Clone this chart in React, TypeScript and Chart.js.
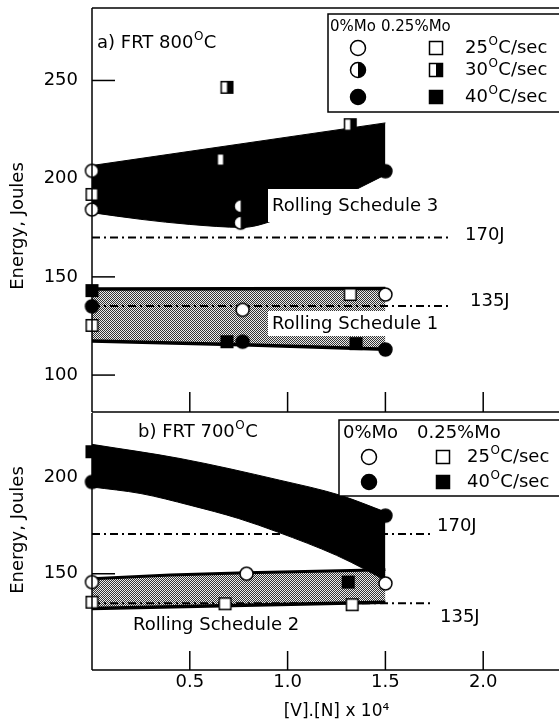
import { useEffect, useRef } from 'react';
import { Chart, registerables } from 'chart.js';

Chart.register(...registerables);

const FONT = '"DejaVu Sans", "Liberation Sans", sans-serif';

// ---------- axis ticks ----------
const xTickValues = [0.5, 1.0, 1.5, 2.0];
const yTicksA = [100, 150, 200, 250];
const yTicksB = [150, 200];

// ---------- Panel a) FRT 800°C : markers ----------
const aCircle25 = [{ x: 0, y: 204 }, { x: 0, y: 184.3 }, { x: 0.77, y: 133.2 }, { x: 1.5, y: 141 }];
const aSquare25 = [{ x: 0, y: 192 }, { x: 0, y: 125.3 }, { x: 1.32, y: 141 }];
const aCircle30 = [{ x: 0.76, y: 186 }, { x: 0.76, y: 177.6 }];
const aSquare30 = [{ x: 0.69, y: 246.5 }, { x: 0.67, y: 209.7 }, { x: 1.32, y: 227.5 }];
const aCircle40 = [{ x: 1.5, y: 203.8 }, { x: 0, y: 135 }, { x: 0.77, y: 117 }, { x: 1.5, y: 113 }];
const aSquare40 = [{ x: 0, y: 143 }, { x: 0.69, y: 117 }, { x: 1.35, y: 116 }];

// Panel a) bands
const aRS3Upper = [{ x: 0, y: 206.7 }, { x: 1.5, y: 228.4 }];
const aRS3Lower = [{ x: 0, y: 182.7 }, { x: 0.25, y: 179.3 }, { x: 0.5, y: 176.7 }, { x: 0.77, y: 175.2 }, { x: 1.0, y: 181 }, { x: 1.2, y: 187 }, { x: 1.37, y: 195.5 }, { x: 1.5, y: 202 }];
const aRS1Upper = [{ x: 0, y: 143.8 }, { x: 1.5, y: 144.1 }];
const aRS1Lower = [{ x: 0, y: 117.3 }, { x: 0.77, y: 115.4 }, { x: 1.5, y: 113.2 }];
const aRef170 = [{ x: 0, y: 170 }, { x: 1.83, y: 170 }];
const aRef135 = [{ x: 0, y: 135.2 }, { x: 1.83, y: 135.2 }];

// ---------- Panel b) FRT 700°C : markers ----------
const bCircle25 = [{ x: 0, y: 145.7 }, { x: 0.79, y: 150 }, { x: 1.5, y: 145 }];
const bSquare25 = [{ x: 0, y: 135.3 }, { x: 0.68, y: 134.5 }, { x: 1.33, y: 134 }];
const bCircle40 = [{ x: 0, y: 197.4 }, { x: 1.5, y: 180 }];
const bSquare40 = [{ x: 0, y: 213 }, { x: 1.31, y: 145.7 }];

// Panel b) bands
const bBlackUpper = [{ x: 0, y: 216.8 }, { x: 0.45, y: 209.5 }, { x: 0.96, y: 198.3 }, { x: 1.27, y: 190.5 }, { x: 1.5, y: 181.9 }];
const bBlackLower = [{ x: 0, y: 194.8 }, { x: 0.25, y: 191.4 }, { x: 0.5, y: 185.4 }, { x: 0.75, y: 178.5 }, { x: 0.95, y: 171.5 }, { x: 1.25, y: 159.5 }, { x: 1.4, y: 152 }, { x: 1.5, y: 146.5 }];
const bRS2Upper = [{ x: 0, y: 147.4 }, { x: 0.4, y: 149.3 }, { x: 0.79, y: 150.5 }, { x: 1.5, y: 152 }];
const bRS2Lower = [{ x: 0, y: 132 }, { x: 1.5, y: 135.3 }];
const bRef170 = [{ x: 0, y: 170.5 }, { x: 1.74, y: 170.5 }];
const bRef135 = [{ x: 0, y: 134.8 }, { x: 1.73, y: 134.8 }];

// ---------- helpers ----------
type Kind = 'open' | 'half' | 'filled';

function drawMarker(g: CanvasRenderingContext2D, round: boolean, kind: Kind, cx: number, cy: number, r: number) {
  const path = () => {
    g.beginPath();
    if (round) g.arc(cx, cy, r, 0, Math.PI * 2);
    else g.rect(cx - r, cy - r, 2 * r, 2 * r);
  };
  g.save();
  path();
  g.fillStyle = kind === 'filled' ? '#000' : '#fff';
  g.fill();
  if (kind === 'half') {
    g.save();
    path();
    g.clip();
    g.fillStyle = '#000';
    g.fillRect(cx, cy - r - 2, r + 2, 2 * r + 4);
    g.restore();
  }
  path();
  g.lineWidth = 1.5;
  g.strokeStyle = '#000';
  g.stroke();
  g.restore();
}

function makeMarker(round: boolean, kind: Kind) {
  const size = round ? 17 : 15;
  const c = document.createElement('canvas');
  c.width = size;
  c.height = size;
  const g = c.getContext('2d')!;
  drawMarker(g, round, kind, size / 2, size / 2, round ? 6.5 : 5.8);
  return c;
}

function makePattern(ctx: CanvasRenderingContext2D) {
  const c = document.createElement('canvas');
  c.width = 2;
  c.height = 2;
  const g = c.getContext('2d')!;
  g.fillStyle = '#ececec';
  g.fillRect(0, 0, 2, 2);
  g.fillStyle = '#333333';
  g.fillRect(0, 0, 1, 1);
  g.fillRect(1, 1, 1, 1);
  return ctx.createPattern(c, 'repeat')!;
}

type Part = string | { sup: string };

function drawRich(ctx: CanvasRenderingContext2D, x: number, y: number, parts: Part[], size: number) {
  let cx = x;
  ctx.textAlign = 'left';
  ctx.textBaseline = 'middle';
  ctx.fillStyle = '#000';
  for (const p of parts) {
    if (typeof p === 'string') {
      ctx.font = `${size}px ${FONT}`;
      ctx.fillText(p, cx, y);
      cx += ctx.measureText(p).width;
    } else {
      const s = Math.round(size * 0.66);
      ctx.font = `${s}px ${FONT}`;
      ctx.fillText(p.sup, cx + 0.5, y - size * 0.36);
      cx += ctx.measureText(p.sup).width + 1;
    }
  }
}

function line(ctx: CanvasRenderingContext2D, x1: number, y1: number, x2: number, y2: number) {
  ctx.beginPath();
  ctx.moveTo(x1, y1);
  ctx.lineTo(x2, y2);
  ctx.stroke();
}

function yTitle(ctx: CanvasRenderingContext2D, x: number, y: number) {
  ctx.save();
  ctx.translate(x, y);
  ctx.rotate(-Math.PI / 2);
  ctx.font = `18px ${FONT}`;
  ctx.fillStyle = '#000';
  ctx.textAlign = 'center';
  ctx.textBaseline = 'middle';
  ctx.fillText('Energy, Joules', 0, 0);
  ctx.restore();
}

function boxedLabel(ctx: CanvasRenderingContext2D, text: string, x: number, y: number, box?: [number, number, number, number]) {
  if (box) {
    ctx.fillStyle = '#fff';
    ctx.fillRect(box[0], box[1], box[2] - box[0], box[3] - box[1]);
  }
  drawRich(ctx, x, y, [text], 18);
}

type Markers = Record<string, HTMLCanvasElement>;

function legend(ctx: CanvasRenderingContext2D, box: [number, number, number, number], headerY: number, headerXs: [number, number], headerSize: number,
  rows: { y: number; kind: Kind; rate: string }[], cx: number, sx: number, tx: number, cr: number, sr: number) {
  ctx.fillStyle = '#fff';
  ctx.fillRect(box[0], box[1], box[2] - box[0], box[3] - box[1]);
  ctx.strokeStyle = '#000';
  ctx.lineWidth = 1.5;
  ctx.strokeRect(box[0], box[1], box[2] - box[0], box[3] - box[1]);
  drawRich(ctx, headerXs[0], headerY, ['0%Mo'], headerSize);
  drawRich(ctx, headerXs[1], headerY, ['0.25%Mo'], headerSize);
  for (const r of rows) {
    drawMarker(ctx, true, r.kind, cx, r.y, cr);
    drawMarker(ctx, false, r.kind, sx, r.y, sr);
    drawRich(ctx, tx, r.y, [r.rate, { sup: 'O' }, 'C/sec'], 18);
  }
}

function frameAndTicks(ctx: CanvasRenderingContext2D, chart: any, yTicks: number[], xTickLen: number, drawTop: boolean) {
  const { left, top, bottom } = chart.chartArea;
  const W = chart.width;
  ctx.strokeStyle = '#000';
  ctx.lineWidth = 1.5;
  if (drawTop) line(ctx, left, top, W, top);
  line(ctx, left, top, left, bottom);
  line(ctx, left, bottom, W, bottom);
  for (const v of yTicks) {
    const y = chart.scales.y.getPixelForValue(v);
    line(ctx, left, y, left + 23, y);
  }
  for (const v of xTickValues) {
    const x = chart.scales.x.getPixelForValue(v);
    line(ctx, x, bottom, x, bottom - xTickLen);
  }
}

function markerSet(list: { data: any[]; img: HTMLCanvasElement }[]) {
  return list.map((m) => ({
    type: 'scatter' as const,
    data: m.data,
    pointStyle: m.img,
    pointRadius: 7,
    showLine: false,
    clip: false as any,
    order: 0,
  }));
}

function edge(data: any[], width: number, order: number, fill: any, bg: any) {
  return {
    type: 'line' as const,
    data,
    pointRadius: 0,
    borderColor: '#000',
    borderWidth: width,
    fill,
    backgroundColor: bg,
    cubicInterpolationMode: 'monotone' as const,
    order,
  };
}

function refLine(data: any[], order: number) {
  return {
    type: 'line' as const,
    data,
    pointRadius: 0,
    borderColor: '#000',
    borderWidth: 2,
    borderDash: [8, 4, 2, 4],
    fill: false,
    order,
  };
}

function yScale(min: number, max: number, ticks: number[]) {
  return {
    type: 'linear' as const,
    min,
    max,
    afterBuildTicks: (s: any) => {
      s.ticks = ticks.map((v) => ({ value: v }));
    },
    afterFit: (s: any) => {
      s.width = 92;
      s.paddingTop = 0;
      s.paddingBottom = 0;
    },
    grid: { display: false, drawTicks: false },
    border: { display: false },
    ticks: { font: { family: FONT, size: 18 }, color: '#000', padding: 14, callback: (v: any) => String(v) },
  };
}

export default function App() {
  const refA = useRef<HTMLCanvasElement>(null);
  const refB = useRef<HTMLCanvasElement>(null);

  useEffect(() => {
    const cA = refA.current!;
    const cB = refB.current!;
    const m: Markers = {
      c25: makeMarker(true, 'open'),
      c30: makeMarker(true, 'half'),
      c40: makeMarker(true, 'filled'),
      s25: makeMarker(false, 'open'),
      s30: makeMarker(false, 'half'),
      s40: makeMarker(false, 'filled'),
    };
    const patA = makePattern(cA.getContext('2d')!);
    const patB = makePattern(cB.getContext('2d')!);

    const decorA = {
      id: 'decorA',
      afterDraw(chart: any) {
        const ctx = chart.ctx as CanvasRenderingContext2D;
        ctx.save();
        frameAndTicks(ctx, chart, yTicksA, 20, true);
        yTitle(ctx, 18, 226);
        drawRich(ctx, 97, 43, ['a) FRT 800', { sup: 'O' }, 'C'], 18);
        drawRich(ctx, 465, 235, ['170J'], 18);
        drawRich(ctx, 470, 301, ['135J'], 18);
        boxedLabel(ctx, 'Rolling Schedule 3', 272, 206, [268, 189, 470, 222]);
        boxedLabel(ctx, 'Rolling Schedule 1', 272, 324, [268, 311, 386, 336]);
        legend(ctx, [328, 14, 600, 112], 27, [330, 381], 15, [
          { y: 48, kind: 'open', rate: '25' },
          { y: 70, kind: 'half', rate: '30' },
          { y: 97, kind: 'filled', rate: '40' },
        ], 358, 436, 465, 7.5, 6.5);
        ctx.restore();
      },
    };

    const OY = 405;
    const decorB = {
      id: 'decorB',
      afterDraw(chart: any) {
        const ctx = chart.ctx as CanvasRenderingContext2D;
        ctx.save();
        frameAndTicks(ctx, chart, yTicksB, 19, false);
        yTitle(ctx, 18, 530 - OY);
        drawRich(ctx, 138, 432 - OY, ['b) FRT 700', { sup: 'O' }, 'C'], 18);
        drawRich(ctx, 437, 526 - OY, ['170J'], 18);
        drawRich(ctx, 440, 617 - OY, ['135J'], 18);
        boxedLabel(ctx, 'Rolling Schedule 2', 133, 625 - OY);
        legend(ctx, [339, 420 - OY, 600, 496 - OY], 433 - OY, [343, 417], 18, [
          { y: 457 - OY, kind: 'open', rate: '25' },
          { y: 482 - OY, kind: 'filled', rate: '40' },
        ], 369, 443, 467, 7.5, 6.5);
        ctx.restore();
      },
    };

    const chartA = new Chart(cA, {
      type: 'scatter',
      data: {
        datasets: [
          ...markerSet([
            { data: aCircle25, img: m.c25 },
            { data: aSquare25, img: m.s25 },
            { data: aCircle30, img: m.c30 },
            { data: aSquare30, img: m.s30 },
            { data: aCircle40, img: m.c40 },
            { data: aSquare40, img: m.s40 },
          ]),
          refLine(aRef170, 3),
          refLine(aRef135, 3),
          edge(aRS3Upper, 1, 5, false, '#000'),
          edge(aRS3Lower, 1, 5, '-1', '#000'),
          edge(aRS1Upper, 3.5, 6, false, patA),
          edge(aRS1Lower, 3.5, 6, '-1', patA),
        ] as any,
      },
      options: {
        responsive: false,
        animation: false,
        devicePixelRatio: 1,
        events: [],
        layout: { padding: { left: 0, top: 8, right: 19, bottom: 7 } },
        plugins: { legend: { display: false }, tooltip: { enabled: false }, filler: { propagate: false } } as any,
        scales: {
          x: { type: 'linear', min: 0, max: 2.5, display: false },
          y: yScale(81.2, 286.9, yTicksA),
        } as any,
      },
      plugins: [decorA],
    });

    const chartB = new Chart(cB, {
      type: 'scatter',
      data: {
        datasets: [
          ...markerSet([
            { data: bCircle25, img: m.c25 },
            { data: bSquare25, img: m.s25 },
            { data: bCircle40, img: m.c40 },
            { data: bSquare40, img: m.s40 },
          ]),
          refLine(bRef170, 4),
          refLine(bRef135, 2),
          edge(bBlackUpper, 1, 3, false, '#000'),
          edge(bBlackLower, 1, 3, '-1', '#000'),
          edge(bRS2Upper, 3, 6, false, patB),
          edge(bRS2Lower, 3.5, 6, '-1', patB),
        ] as any,
      },
      options: {
        responsive: false,
        animation: false,
        devicePixelRatio: 1,
        events: [],
        layout: { padding: { left: 0, top: 8, right: 19, bottom: 0 } },
        plugins: { legend: { display: false }, tooltip: { enabled: false }, filler: { propagate: false } } as any,
        scales: {
          x: {
            type: 'linear',
            min: 0,
            max: 2.5,
            afterBuildTicks: (s: any) => {
              s.ticks = xTickValues.map((v) => ({ value: v }));
            },
            afterFit: (s: any) => {
              s.height = 52;
              s.paddingLeft = 0;
              s.paddingRight = 0;
            },
            grid: { display: false, drawTicks: false },
            border: { display: false },
            ticks: { font: { family: FONT, size: 18 }, color: '#000', padding: 2, maxRotation: 0, callback: (v: any) => Number(v).toFixed(1) },
            title: { display: true, text: '[V].[N] x 10⁴', font: { family: FONT, size: 17 }, color: '#000', padding: { top: 0, bottom: 0 } },
          },
          y: yScale(100.3, 233, yTicksB),
        } as any,
      },
      plugins: [decorB],
    });

    return () => {
      chartA.destroy();
      chartB.destroy();
    };
  }, []);

  return (
    <div style={{ position: 'absolute', left: 0, top: 0, width: 559, height: 722, overflow: 'hidden', background: '#fff' }}>
      <canvas ref={refA} width={600} height={420} style={{ position: 'absolute', left: 0, top: 0, width: 600, height: 420 }} />
      <canvas ref={refB} width={600} height={317} style={{ position: 'absolute', left: 0, top: 405, width: 600, height: 317 }} />
    </div>
  );
}
